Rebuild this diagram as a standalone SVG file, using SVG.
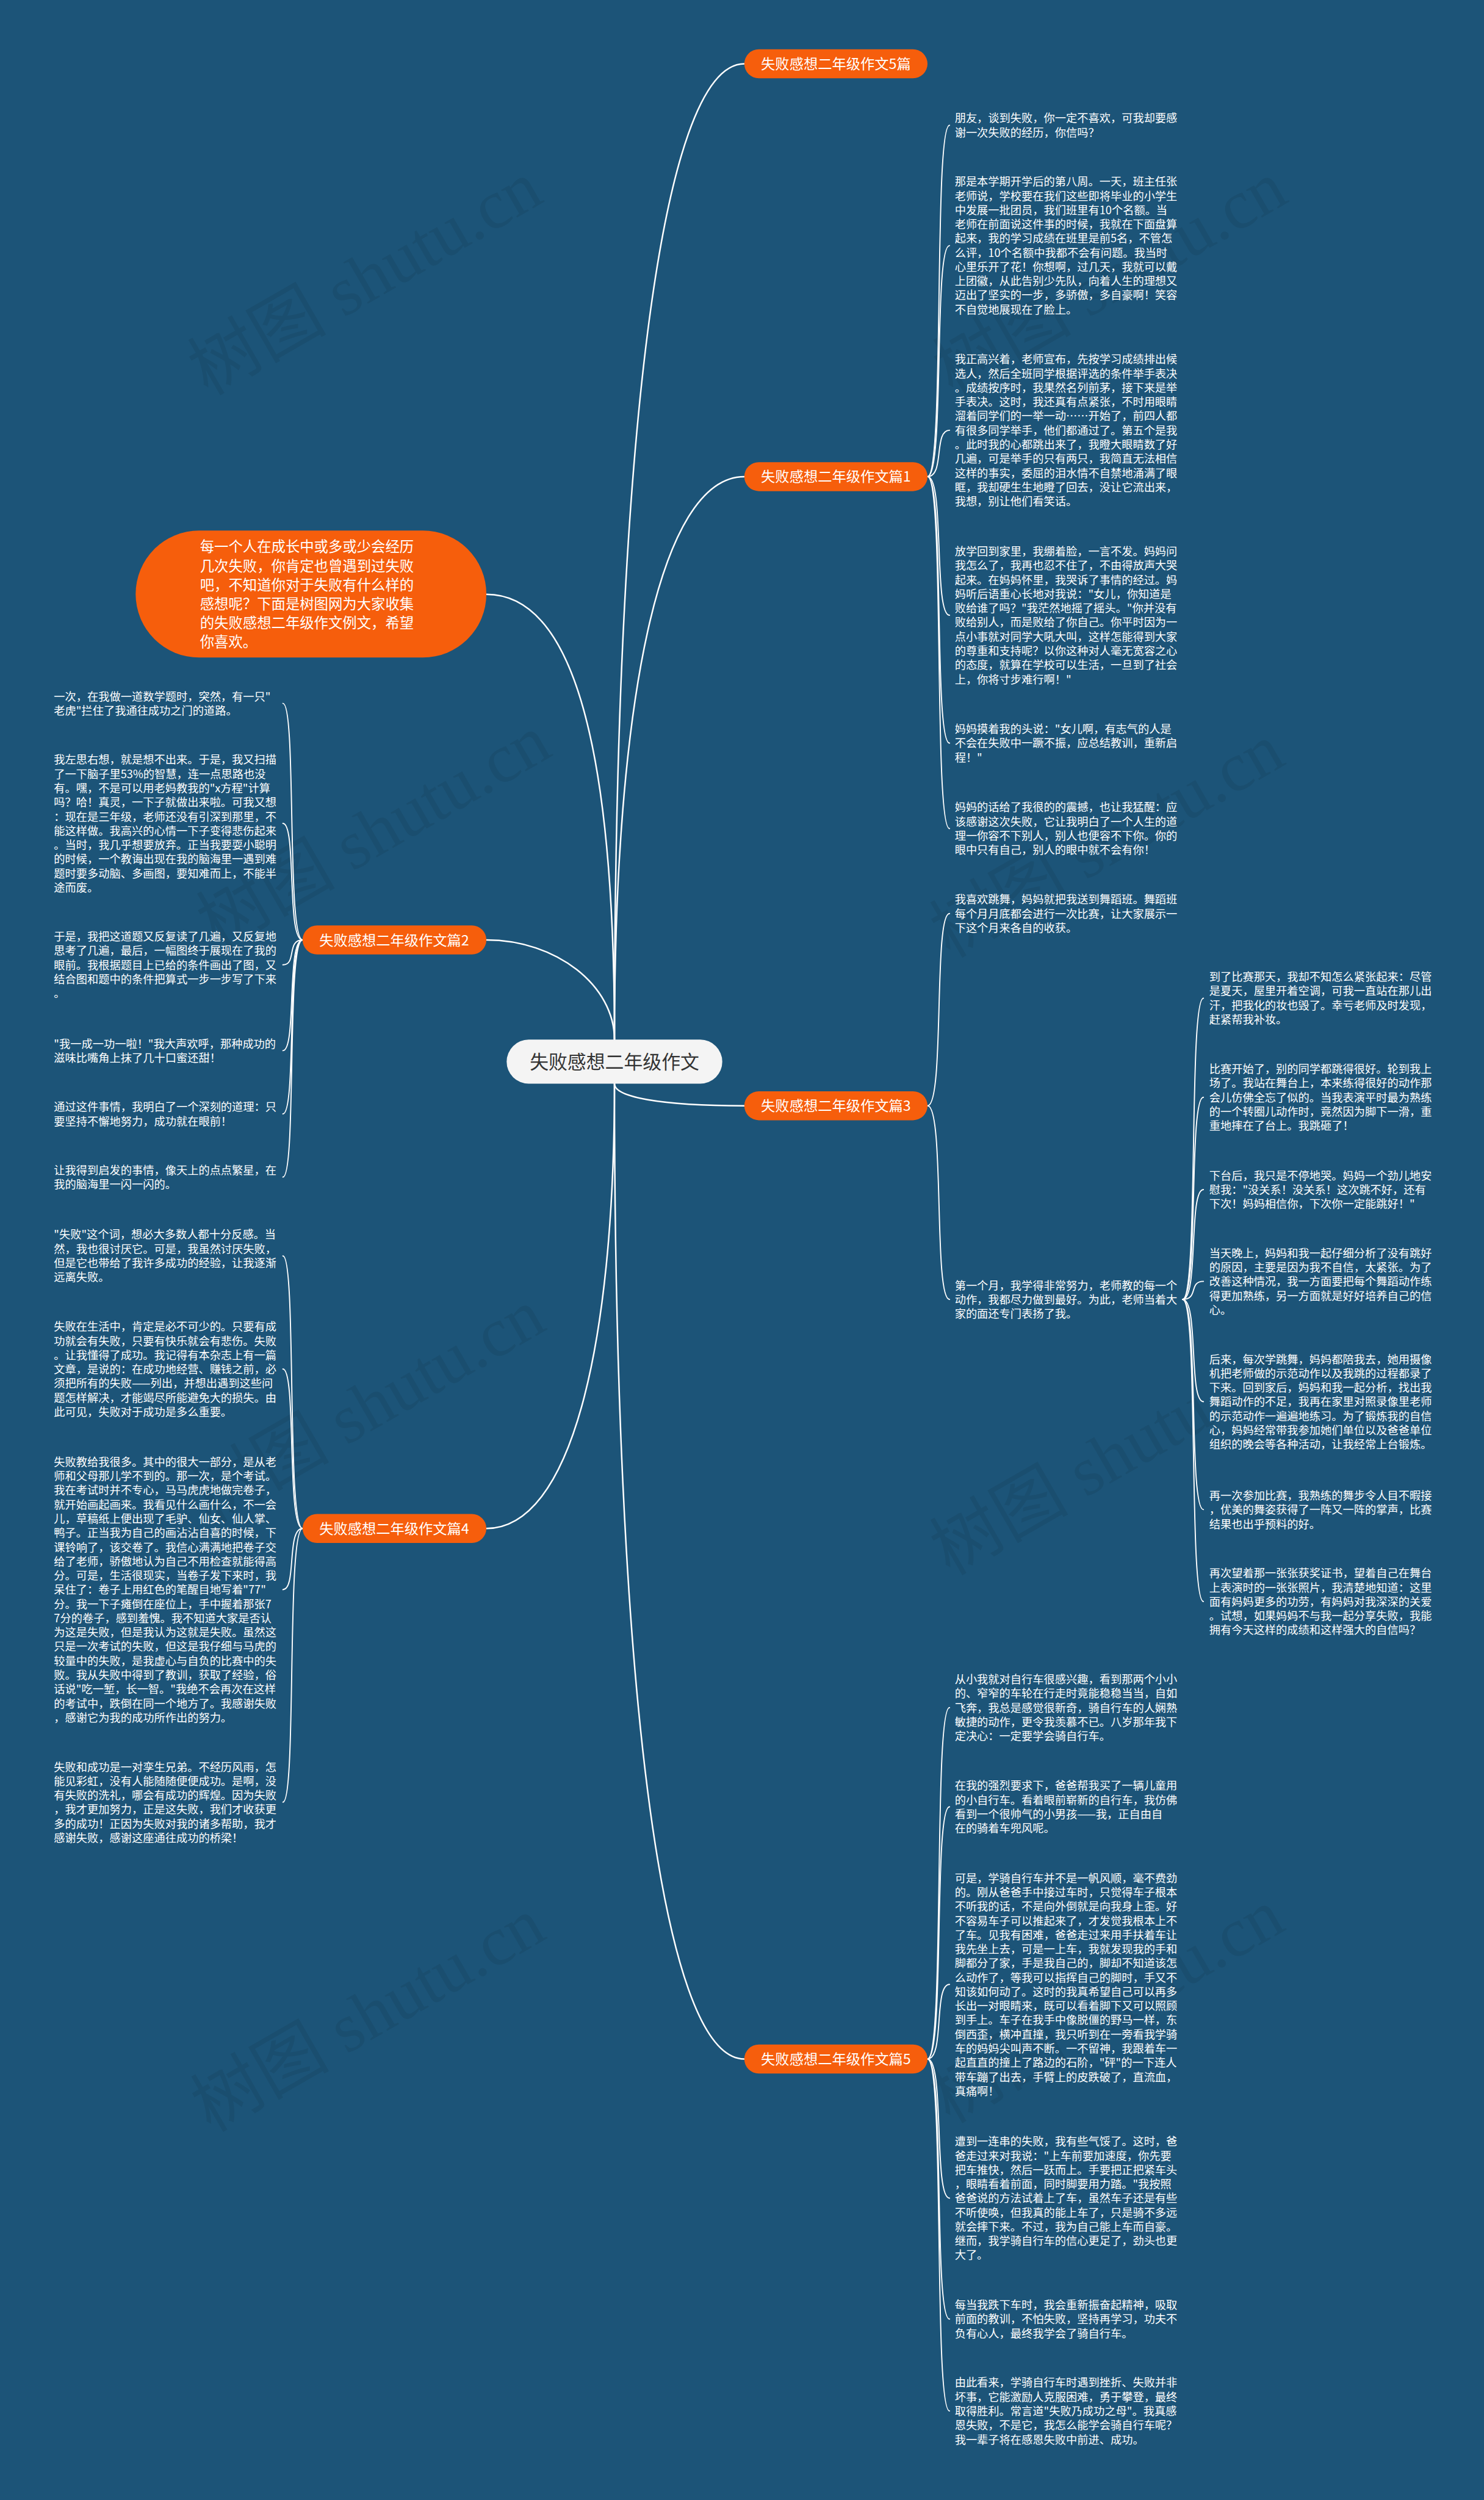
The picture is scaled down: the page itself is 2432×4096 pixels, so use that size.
<svg xmlns="http://www.w3.org/2000/svg" width="2432" height="4096" viewBox="0 0 2432 4096">
<defs>
<style>
.t{font-family:"Noto Sans CJK SC","Noto Sans",sans-serif;font-size:19.2px;fill:#ffffff;}
.lb{font-family:"Noto Sans CJK SC","Noto Sans",sans-serif;font-size:24.5px;fill:#ffffff;text-anchor:middle;}
.ct{font-family:"Noto Sans CJK SC","Noto Sans",sans-serif;font-size:32.5px;fill:#333333;text-anchor:middle;}
.it{font-family:"Noto Sans CJK SC","Noto Sans",sans-serif;font-size:24.6px;fill:#ffffff;}
.pill{fill:#f65e0c;}
.m{fill:none;stroke:#ffffff;stroke-width:2.6;stroke-linecap:round;}
.s{fill:none;stroke:#ffffff;stroke-width:2;stroke-linecap:round;}
.wm{font-family:"Liberation Serif","Noto Sans CJK SC",serif;font-size:120px;fill:#000000;fill-opacity:0.07;}
</style>
</defs>
<rect x="0" y="0" width="2432" height="4096" fill="#1c5478"/>
<g transform="scale(0.95)">
<g id="watermarks">
<text class="wm" transform="translate(650,515) rotate(-30)" text-anchor="middle">树图 shutu.cn</text>
<text class="wm" transform="translate(665,1470) rotate(-30)" text-anchor="middle">树图 shutu.cn</text>
<text class="wm" transform="translate(655,2460) rotate(-30)" text-anchor="middle">树图 shutu.cn</text>
<text class="wm" transform="translate(655,3510) rotate(-30)" text-anchor="middle">树图 shutu.cn</text>
<text class="wm" transform="translate(1935,515) rotate(-30)" text-anchor="middle">树图 shutu.cn</text>
<text class="wm" transform="translate(1930,1485) rotate(-30)" text-anchor="middle">树图 shutu.cn</text>
<text class="wm" transform="translate(1930,2550) rotate(-30)" text-anchor="middle">树图 shutu.cn</text>
<text class="wm" transform="translate(1930,3495) rotate(-30)" text-anchor="middle">树图 shutu.cn</text>
</g>
<g id="connectors">
<path class="m" d="M1060,1793 C1060,783 1138,110 1284,110"/>
<path class="m" d="M1060,1793 C1060,1210 1138,822 1284,822"/>
<path class="m" d="M1060,1793 C1060,1330 1000,1025 839,1025"/>
<path class="m" d="M1060,1793 C1060,1700 960,1621 839,1621"/>
<path class="m" d="M1060,1869 C1060,1892 1138,1907 1284,1907"/>
<path class="m" d="M1060,1869 C1060,2330 983,2636 839,2636"/>
<path class="m" d="M1060,1869 C1060,2879 1138,3551 1284,3551"/>
<path class="s" d="M1600,822 C1630,822 1610,216 1638,216"/>
<path class="s" d="M1600,822 C1630,822 1610,423.5 1638,423.5"/>
<path class="s" d="M1600,822 C1630,822 1610,742 1638,742"/>
<path class="s" d="M1600,822 C1630,822 1610,1061 1638,1061"/>
<path class="s" d="M1600,822 C1630,822 1610,1281.5 1638,1281.5"/>
<path class="s" d="M1600,822 C1630,822 1610,1429 1638,1429"/>
<path class="s" d="M1600,1907 C1630,1907 1610,1575.5 1638,1575.5"/>
<path class="s" d="M1600,1907 C1630,1907 1610,2241 1638,2241"/>
<path class="s" d="M2040,2241 C2068,2241 2050,1721.6 2076,1721.6"/>
<path class="s" d="M2040,2241 C2068,2241 2050,1892.3 2076,1892.3"/>
<path class="s" d="M2040,2241 C2068,2241 2050,2051.5 2076,2051.5"/>
<path class="s" d="M2040,2241 C2068,2241 2050,2209.9 2076,2209.9"/>
<path class="s" d="M2040,2241 C2068,2241 2050,2417.3 2076,2417.3"/>
<path class="s" d="M2040,2241 C2068,2241 2050,2603.5 2076,2603.5"/>
<path class="s" d="M2040,2241 C2068,2241 2050,2762 2076,2762"/>
<path class="s" d="M1600,3551 C1630,3551 1610,2945 1638,2945"/>
<path class="s" d="M1600,3551 C1630,3551 1610,3116 1638,3116"/>
<path class="s" d="M1600,3551 C1630,3551 1610,3422.4 1638,3422.4"/>
<path class="s" d="M1600,3551 C1630,3551 1610,3791 1638,3791"/>
<path class="s" d="M1600,3551 C1630,3551 1610,3999.5 1638,3999.5"/>
<path class="s" d="M1600,3551 C1630,3551 1610,4158 1638,4158"/>
<path class="s" d="M522,1621 C494,1621 512,1213 488,1213"/>
<path class="s" d="M522,1621 C494,1621 512,1420 488,1420"/>
<path class="s" d="M522,1621 C494,1621 512,1664 488,1664"/>
<path class="s" d="M522,1621 C494,1621 512,1812 488,1812"/>
<path class="s" d="M522,1621 C494,1621 512,1921 488,1921"/>
<path class="s" d="M522,1621 C494,1621 512,2030 488,2030"/>
<path class="s" d="M522,2636 C494,2636 512,2166 488,2166"/>
<path class="s" d="M522,2636 C494,2636 512,2361 488,2361"/>
<path class="s" d="M522,2636 C494,2636 512,2741.5 488,2741.5"/>
<path class="s" d="M522,2636 C494,2636 512,3108 488,3108"/>
</g>
<g id="root">
<rect x="874" y="1793" width="372" height="76" rx="38" fill="#f4f4f4"/>
<text class="ct" x="1060" y="1843">失败感想二年级作文</text>
</g>
<g id="intro">
<rect class="pill" x="234" y="915" width="605" height="219" rx="109.5"/>
<text class="it" x="345" y="952"><tspan x="345" dy="0">每一个人在成长中或多或少会经历</tspan><tspan x="345" dy="32.8">几次失败，你肯定也曾遇到过失败</tspan><tspan x="345" dy="32.8">吧，不知道你对于失败有什么样的</tspan><tspan x="345" dy="32.8">感想呢？下面是树图网为大家收集</tspan><tspan x="345" dy="32.8">的失败感想二年级作文例文，希望</tspan><tspan x="345" dy="32.8">你喜欢。</tspan></text>
</g>
<g id="label-5pian">
<rect class="pill" x="1284" y="85" width="316" height="50" rx="25"/>
<text class="lb" x="1442" y="119">失败感想二年级作文5篇</text>
</g>
<g id="label-1">
<rect class="pill" x="1284" y="797" width="316" height="50" rx="25"/>
<text class="lb" x="1442" y="831">失败感想二年级作文篇1</text>
</g>
<g id="label-2">
<rect class="pill" x="522" y="1596" width="317" height="50" rx="25"/>
<text class="lb" x="680" y="1630">失败感想二年级作文篇2</text>
</g>
<g id="label-3">
<rect class="pill" x="1284" y="1882" width="316" height="50" rx="25"/>
<text class="lb" x="1442" y="1916">失败感想二年级作文篇3</text>
</g>
<g id="label-4">
<rect class="pill" x="522" y="2611" width="317" height="50" rx="25"/>
<text class="lb" x="680" y="2645">失败感想二年级作文篇4</text>
</g>
<g id="label-5">
<rect class="pill" x="1284" y="3526" width="316" height="50" rx="25"/>
<text class="lb" x="1442" y="3560">失败感想二年级作文篇5</text>
</g>
<g id="p1-1"><text class="t" x="1647" y="211"><tspan x="1647" dy="0">朋友，谈到失败，你一定不喜欢，可我却要感</tspan><tspan x="1647" dy="24.5">谢一次失败的经历，你信吗？</tspan></text></g>
<g id="p1-2"><text class="t" x="1647" y="320.3"><tspan x="1647" dy="0">那是本学期开学后的第八周。一天，班主任张</tspan><tspan x="1647" dy="24.5">老师说，学校要在我们这些即将毕业的小学生</tspan><tspan x="1647" dy="24.5">中发展一批团员，我们班里有10个名额。当</tspan><tspan x="1647" dy="24.5">老师在前面说这件事的时候，我就在下面盘算</tspan><tspan x="1647" dy="24.5">起来，我的学习成绩在班里是前5名，不管怎</tspan><tspan x="1647" dy="24.5">么评，10个名额中我都不会有问题。我当时</tspan><tspan x="1647" dy="24.5">心里乐开了花！你想啊，过几天，我就可以戴</tspan><tspan x="1647" dy="24.5">上团徽，从此告别少先队，向着人生的理想又</tspan><tspan x="1647" dy="24.5">迈出了坚实的一步，多骄傲，多自豪啊！笑容</tspan><tspan x="1647" dy="24.5">不自觉地展现在了脸上。</tspan></text></g>
<g id="p1-3"><text class="t" x="1647" y="626.7"><tspan x="1647" dy="0">我正高兴着，老师宣布，先按学习成绩排出候</tspan><tspan x="1647" dy="24.5">选人，然后全班同学根据评选的条件举手表决</tspan><tspan x="1647" dy="24.5">。成绩按序时，我果然名列前茅，接下来是举</tspan><tspan x="1647" dy="24.5">手表决。这时，我还真有点紧张，不时用眼睛</tspan><tspan x="1647" dy="24.5">溜着同学们的一举一动……开始了，前四人都</tspan><tspan x="1647" dy="24.5">有很多同学举手，他们都通过了。第五个是我</tspan><tspan x="1647" dy="24.5">。此时我的心都跳出来了，我瞪大眼睛数了好</tspan><tspan x="1647" dy="24.5">几遍，可是举手的只有两只，我简直无法相信</tspan><tspan x="1647" dy="24.5">这样的事实，委屈的泪水情不自禁地涌满了眼</tspan><tspan x="1647" dy="24.5">眶，我却硬生生地瞪了回去，没让它流出来，</tspan><tspan x="1647" dy="24.5">我想，别让他们看笑话。</tspan></text></g>
<g id="p1-4"><text class="t" x="1647" y="958"><tspan x="1647" dy="0">放学回到家里，我绷着脸，一言不发。妈妈问</tspan><tspan x="1647" dy="24.5">我怎么了，我再也忍不住了，不由得放声大哭</tspan><tspan x="1647" dy="24.5">起来。在妈妈怀里，我哭诉了事情的经过。妈</tspan><tspan x="1647" dy="24.5">妈听后语重心长地对我说："女儿，你知道是</tspan><tspan x="1647" dy="24.5">败给谁了吗？"我茫然地摇了摇头。"你并没有</tspan><tspan x="1647" dy="24.5">败给别人，而是败给了你自己。你平时因为一</tspan><tspan x="1647" dy="24.5">点小事就对同学大吼大叫，这样怎能得到大家</tspan><tspan x="1647" dy="24.5">的尊重和支持呢？以你这种对人毫无宽容之心</tspan><tspan x="1647" dy="24.5">的态度，就算在学校可以生活，一旦到了社会</tspan><tspan x="1647" dy="24.5">上，你将寸步难行啊！"</tspan></text></g>
<g id="p1-5"><text class="t" x="1647" y="1264.3"><tspan x="1647" dy="0">妈妈摸着我的头说："女儿啊，有志气的人是</tspan><tspan x="1647" dy="24.5">不会在失败中一蹶不振，应总结教训，重新启</tspan><tspan x="1647" dy="24.5">程！"</tspan></text></g>
<g id="p1-6"><text class="t" x="1647" y="1399.3"><tspan x="1647" dy="0">妈妈的话给了我很的的震撼，也让我猛醒：应</tspan><tspan x="1647" dy="24.5">该感谢这次失败，它让我明白了一个人生的道</tspan><tspan x="1647" dy="24.5">理一你容不下别人，别人也便容不下你。你的</tspan><tspan x="1647" dy="24.5">眼中只有自己，别人的眼中就不会有你！</tspan></text></g>
<g id="p3-1"><text class="t" x="1647" y="1558.3"><tspan x="1647" dy="0">我喜欢跳舞，妈妈就把我送到舞蹈班。舞蹈班</tspan><tspan x="1647" dy="24.5">每个月月底都会进行一次比赛，让大家展示一</tspan><tspan x="1647" dy="24.5">下这个月来各自的收获。</tspan></text></g>
<g id="p3-2"><text class="t" x="1647" y="2223.8"><tspan x="1647" dy="0">第一个月，我学得非常努力，老师教的每一个</tspan><tspan x="1647" dy="24.5">动作，我都尽力做到最好。为此，老师当着大</tspan><tspan x="1647" dy="24.5">家的面还专门表扬了我。</tspan></text></g>
<g id="p3-2-1"><text class="t" x="2086" y="1691.7"><tspan x="2086" dy="0">到了比赛那天，我却不知怎么紧张起来：尽管</tspan><tspan x="2086" dy="24.5">是夏天，屋里开着空调，可我一直站在那儿出</tspan><tspan x="2086" dy="24.5">汗，把我化的妆也毁了。幸亏老师及时发现，</tspan><tspan x="2086" dy="24.5">赶紧帮我补妆。</tspan></text></g>
<g id="p3-2-2"><text class="t" x="2086" y="1850.6"><tspan x="2086" dy="0">比赛开始了，别的同学都跳得很好。轮到我上</tspan><tspan x="2086" dy="24.5">场了。我站在舞台上，本来练得很好的动作那</tspan><tspan x="2086" dy="24.5">会儿仿佛全忘了似的。当我表演平时最为熟练</tspan><tspan x="2086" dy="24.5">的一个转圈儿动作时，竟然因为脚下一滑，重</tspan><tspan x="2086" dy="24.5">重地摔在了台上。我跳砸了！</tspan></text></g>
<g id="p3-2-3"><text class="t" x="2086" y="2034.3"><tspan x="2086" dy="0">下台后，我只是不停地哭。妈妈一个劲儿地安</tspan><tspan x="2086" dy="24.5">慰我："没关系！没关系！这次跳不好，还有</tspan><tspan x="2086" dy="24.5">下次！妈妈相信你，下次你一定能跳好！"</tspan></text></g>
<g id="p3-2-4"><text class="t" x="2086" y="2168.2"><tspan x="2086" dy="0">当天晚上，妈妈和我一起仔细分析了没有跳好</tspan><tspan x="2086" dy="24.5">的原因，主要是因为我不自信，太紧张。为了</tspan><tspan x="2086" dy="24.5">改善这种情况，我一方面要把每个舞蹈动作练</tspan><tspan x="2086" dy="24.5">得更加熟练，另一方面就是好好培养自己的信</tspan><tspan x="2086" dy="24.5">心。</tspan></text></g>
<g id="p3-2-5"><text class="t" x="2086" y="2351.1"><tspan x="2086" dy="0">后来，每次学跳舞，妈妈都陪我去，她用摄像</tspan><tspan x="2086" dy="24.5">机把老师做的示范动作以及我跳的过程都录了</tspan><tspan x="2086" dy="24.5">下来。回到家后，妈妈和我一起分析，找出我</tspan><tspan x="2086" dy="24.5">舞蹈动作的不足，我再在家里对照录像里老师</tspan><tspan x="2086" dy="24.5">的示范动作一遍遍地练习。为了锻炼我的自信</tspan><tspan x="2086" dy="24.5">心，妈妈经常带我参加她们单位以及爸爸单位</tspan><tspan x="2086" dy="24.5">组织的晚会等各种活动，让我经常上台锻炼。</tspan></text></g>
<g id="p3-2-6"><text class="t" x="2086" y="2586.3"><tspan x="2086" dy="0">再一次参加比赛，我熟练的舞步令人目不暇接</tspan><tspan x="2086" dy="24.5">，优美的舞姿获得了一阵又一阵的掌声，比赛</tspan><tspan x="2086" dy="24.5">结果也出乎预料的好。</tspan></text></g>
<g id="p3-2-7"><text class="t" x="2086" y="2720.3"><tspan x="2086" dy="0">再次望着那一张张获奖证书，望着自己在舞台</tspan><tspan x="2086" dy="24.5">上表演时的一张张照片，我清楚地知道：这里</tspan><tspan x="2086" dy="24.5">面有妈妈更多的功劳，有妈妈对我深深的关爱</tspan><tspan x="2086" dy="24.5">。试想，如果妈妈不与我一起分享失败，我能</tspan><tspan x="2086" dy="24.5">拥有今天这样的成绩和这样强大的自信吗？</tspan></text></g>
<g id="p5-1"><text class="t" x="1647" y="2903.3"><tspan x="1647" dy="0">从小我就对自行车很感兴趣，看到那两个小小</tspan><tspan x="1647" dy="24.5">的、窄窄的车轮在行走时竟能稳稳当当，自如</tspan><tspan x="1647" dy="24.5">飞奔，我总是感觉很新奇，骑自行车的人娴熟</tspan><tspan x="1647" dy="24.5">敏捷的动作，更令我羡慕不已。八岁那年我下</tspan><tspan x="1647" dy="24.5">定决心：一定要学会骑自行车。</tspan></text></g>
<g id="p5-2"><text class="t" x="1647" y="3086.8"><tspan x="1647" dy="0">在我的强烈要求下，爸爸帮我买了一辆儿童用</tspan><tspan x="1647" dy="24.5">的小自行车。看着眼前崭新的自行车，我仿佛</tspan><tspan x="1647" dy="24.5">看到一个很帅气的小男孩——我，正自由自</tspan><tspan x="1647" dy="24.5">在的骑着车兜风呢。</tspan></text></g>
<g id="p5-3"><text class="t" x="1647" y="3246"><tspan x="1647" dy="0">可是，学骑自行车并不是一帆风顺，毫不费劲</tspan><tspan x="1647" dy="24.5">的。刚从爸爸手中接过车时，只觉得车子根本</tspan><tspan x="1647" dy="24.5">不听我的话，不是向外倒就是向我身上歪。好</tspan><tspan x="1647" dy="24.5">不容易车子可以推起来了，才发觉我根本上不</tspan><tspan x="1647" dy="24.5">了车。见我有困难，爸爸走过来用手扶着车让</tspan><tspan x="1647" dy="24.5">我先坐上去，可是一上车，我就发现我的手和</tspan><tspan x="1647" dy="24.5">脚都分了家，手是我自己的，脚却不知道该怎</tspan><tspan x="1647" dy="24.5">么动作了，等我可以指挥自己的脚时，手又不</tspan><tspan x="1647" dy="24.5">知该如何动了。这时的我真希望自己可以再多</tspan><tspan x="1647" dy="24.5">长出一对眼睛来，既可以看着脚下又可以照顾</tspan><tspan x="1647" dy="24.5">到手上。车子在我手中像脱僵的野马一样，东</tspan><tspan x="1647" dy="24.5">倒西歪，横冲直撞，我只听到在一旁看我学骑</tspan><tspan x="1647" dy="24.5">车的妈妈尖叫声不断。一不留神，我跟着车一</tspan><tspan x="1647" dy="24.5">起直直的撞上了路边的石阶，"砰"的一下连人</tspan><tspan x="1647" dy="24.5">带车蹦了出去，手臂上的皮跌破了，直流血，</tspan><tspan x="1647" dy="24.5">真痛啊！</tspan></text></g>
<g id="p5-4"><text class="t" x="1647" y="3700.3"><tspan x="1647" dy="0">遭到一连串的失败，我有些气馁了。这时，爸</tspan><tspan x="1647" dy="24.5">爸走过来对我说："上车前要加速度，你先要</tspan><tspan x="1647" dy="24.5">把车推快，然后一跃而上。手要把正把紧车头</tspan><tspan x="1647" dy="24.5">，眼睛看着前面，同时脚要用力踏。"我按照</tspan><tspan x="1647" dy="24.5">爸爸说的方法试着上了车，虽然车子还是有些</tspan><tspan x="1647" dy="24.5">不听使唤，但我真的能上车了，只是骑不多远</tspan><tspan x="1647" dy="24.5">就会摔下来。不过，我为自己能上车而自豪。</tspan><tspan x="1647" dy="24.5">继而，我学骑自行车的信心更足了，劲头也更</tspan><tspan x="1647" dy="24.5">大了。</tspan></text></g>
<g id="p5-5"><text class="t" x="1647" y="3982.3"><tspan x="1647" dy="0">每当我跌下车时，我会重新振奋起精神，吸取</tspan><tspan x="1647" dy="24.5">前面的教训，不怕失败，坚持再学习，功夫不</tspan><tspan x="1647" dy="24.5">负有心人，最终我学会了骑自行车。</tspan></text></g>
<g id="p5-6"><text class="t" x="1647" y="4116.3"><tspan x="1647" dy="0">由此看来，学骑自行车时遇到挫折、失败并非</tspan><tspan x="1647" dy="24.5">坏事，它能激励人克服困难，勇于攀登，最终</tspan><tspan x="1647" dy="24.5">取得胜利。常言道"失败乃成功之母"。我真感</tspan><tspan x="1647" dy="24.5">恩失败，不是它，我怎么能学会骑自行车呢？</tspan><tspan x="1647" dy="24.5">我一辈子将在感恩失败中前进、成功。</tspan></text></g>
<g id="p2-1"><text class="t" x="93" y="1208.3"><tspan x="93" dy="0">一次，在我做一道数学题时，突然，有一只"</tspan><tspan x="93" dy="24.5">老虎"拦住了我通往成功之门的道路。</tspan></text></g>
<g id="p2-2"><text class="t" x="93" y="1317.3"><tspan x="93" dy="0">我左思右想，就是想不出来。于是，我又扫描</tspan><tspan x="93" dy="24.5">了一下脑子里53%的智慧，连一点思路也没</tspan><tspan x="93" dy="24.5">有。嘿，不是可以用老妈教我的"x方程"计算</tspan><tspan x="93" dy="24.5">吗？哈！真灵，一下子就做出来啦。可我又想</tspan><tspan x="93" dy="24.5">：现在是三年级，老师还没有引深到那里，不</tspan><tspan x="93" dy="24.5">能这样做。我高兴的心情一下子变得悲伤起来</tspan><tspan x="93" dy="24.5">。当时，我几乎想要放弃。正当我要耍小聪明</tspan><tspan x="93" dy="24.5">的时候，一个教诲出现在我的脑海里一遇到难</tspan><tspan x="93" dy="24.5">题时要多动脑、多画图，要知难而上，不能半</tspan><tspan x="93" dy="24.5">途而废。</tspan></text></g>
<g id="p2-3"><text class="t" x="93" y="1622.3"><tspan x="93" dy="0">于是，我把这道题又反复读了几遍，又反复地</tspan><tspan x="93" dy="24.5">思考了几遍，最后，一幅图终于展现在了我的</tspan><tspan x="93" dy="24.5">眼前。我根据题目上已给的条件画出了图，又</tspan><tspan x="93" dy="24.5">结合图和题中的条件把算式一步一步写了下来</tspan><tspan x="93" dy="24.5">。</tspan></text></g>
<g id="p2-4"><text class="t" x="93" y="1807.3"><tspan x="93" dy="0">"我一成一功一啦！"我大声欢呼，那种成功的</tspan><tspan x="93" dy="24.5">滋味比嘴角上抹了几十口蜜还甜！</tspan></text></g>
<g id="p2-5"><text class="t" x="93" y="1916.3"><tspan x="93" dy="0">通过这件事情，我明白了一个深刻的道理：只</tspan><tspan x="93" dy="24.5">要坚持不懈地努力，成功就在眼前！</tspan></text></g>
<g id="p2-6"><text class="t" x="93" y="2025.3"><tspan x="93" dy="0">让我得到启发的事情，像天上的点点繁星，在</tspan><tspan x="93" dy="24.5">我的脑海里一闪一闪的。</tspan></text></g>
<g id="p4-1"><text class="t" x="93" y="2136.3"><tspan x="93" dy="0">"失败"这个词，想必大多数人都十分反感。当</tspan><tspan x="93" dy="24.5">然，我也很讨厌它。可是，我虽然讨厌失败，</tspan><tspan x="93" dy="24.5">但是它也带给了我许多成功的经验，让我逐渐</tspan><tspan x="93" dy="24.5">远离失败。</tspan></text></g>
<g id="p4-2"><text class="t" x="93" y="2295"><tspan x="93" dy="0">失败在生活中，肯定是必不可少的。只要有成</tspan><tspan x="93" dy="24.5">功就会有失败，只要有快乐就会有悲伤。失败</tspan><tspan x="93" dy="24.5">。让我懂得了成功。我记得有本杂志上有一篇</tspan><tspan x="93" dy="24.5">文章，是说的：在成功地经营、赚钱之前，必</tspan><tspan x="93" dy="24.5">须把所有的失败——列出，并想出遇到这些问</tspan><tspan x="93" dy="24.5">题怎样解决，才能竭尽所能避免大的损失。由</tspan><tspan x="93" dy="24.5">此可见，失败对于成功是多么重要。</tspan></text></g>
<g id="p4-3"><text class="t" x="93" y="2528.3"><tspan x="93" dy="0">失败教给我很多。其中的很大一部分，是从老</tspan><tspan x="93" dy="24.5">师和父母那儿学不到的。那一次，是个考试。</tspan><tspan x="93" dy="24.5">我在考试时并不专心，马马虎虎地做完卷子，</tspan><tspan x="93" dy="24.5">就开始画起画来。我看见什么画什么，不一会</tspan><tspan x="93" dy="24.5">儿，草稿纸上便出现了毛驴、仙女、仙人掌、</tspan><tspan x="93" dy="24.5">鸭子。正当我为自己的画沾沾自喜的时候，下</tspan><tspan x="93" dy="24.5">课铃响了，该交卷了。我信心满满地把卷子交</tspan><tspan x="93" dy="24.5">给了老师，骄傲地认为自己不用检查就能得高</tspan><tspan x="93" dy="24.5">分。可是，生活很现实，当卷子发下来时，我</tspan><tspan x="93" dy="24.5">呆住了：卷子上用红色的笔醒目地写着"77"</tspan><tspan x="93" dy="24.5">分。我一下子瘫倒在座位上，手中握着那张7</tspan><tspan x="93" dy="24.5">7分的卷子，感到羞愧。我不知道大家是否认</tspan><tspan x="93" dy="24.5">为这是失败，但是我认为这就是失败。虽然这</tspan><tspan x="93" dy="24.5">只是一次考试的失败，但这是我仔细与马虎的</tspan><tspan x="93" dy="24.5">较量中的失败，是我虚心与自负的比赛中的失</tspan><tspan x="93" dy="24.5">败。我从失败中得到了教训，获取了经验，俗</tspan><tspan x="93" dy="24.5">话说"吃一堑，长一智。"我绝不会再次在这样</tspan><tspan x="93" dy="24.5">的考试中，跌倒在同一个地方了。我感谢失败</tspan><tspan x="93" dy="24.5">，感谢它为我的成功所作出的努力。</tspan></text></g>
<g id="p4-4"><text class="t" x="93" y="3054.3"><tspan x="93" dy="0">失败和成功是一对孪生兄弟。不经历风雨，怎</tspan><tspan x="93" dy="24.5">能见彩虹，没有人能随随便便成功。是啊，没</tspan><tspan x="93" dy="24.5">有失败的洗礼，哪会有成功的辉煌。因为失败</tspan><tspan x="93" dy="24.5">，我才更加努力，正是这失败，我们才收获更</tspan><tspan x="93" dy="24.5">多的成功！正因为失败对我的诸多帮助，我才</tspan><tspan x="93" dy="24.5">感谢失败，感谢这座通往成功的桥梁！</tspan></text></g>
</g>
</svg>
